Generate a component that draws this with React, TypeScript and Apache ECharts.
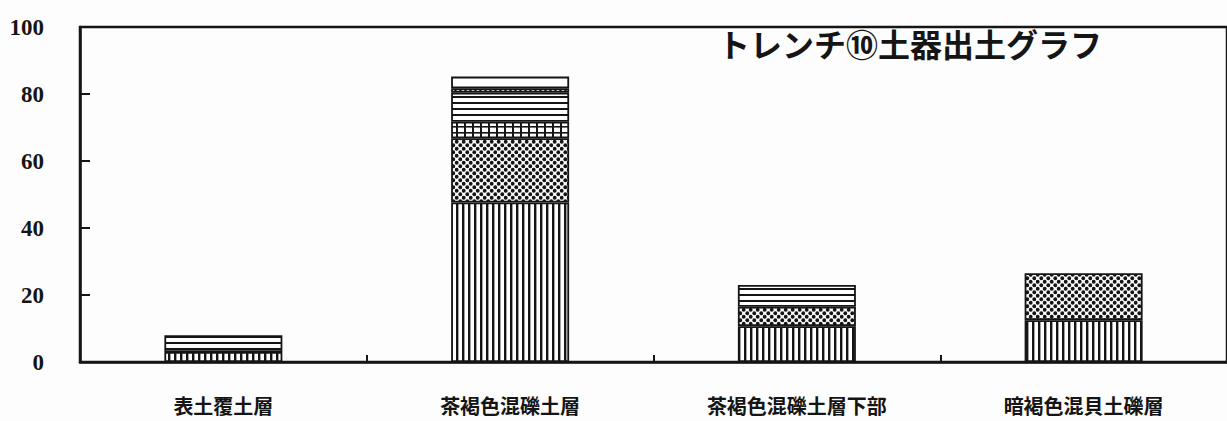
import React, { useEffect, useRef } from "react";
import * as echarts from "echarts";

const categories = ["表土覆土層", "茶褐色混礫土層", "茶褐色混礫土層下部", "暗褐色混貝土礫層"];
const verticalLines = [3, 47.6, 10.7, 12.5];
const dots = [null, 19.2, 5.8, 14];
const gridCells = [null, 4.9, null, null];
const horizontalLines = [5, 8.7, 6.5, null];
const diagonal = [null, 1.3, null, null];
const blank = [null, 3.5, null, null];
const yTicks = [0, 20, 40, 60, 80, 100];
const title = "トレンチ⑩土器出土グラフ";

const INK = "#151515";

function makePattern(w: number, h: number, draw: (ctx: CanvasRenderingContext2D) => void) {
  const c = document.createElement("canvas");
  c.width = w;
  c.height = h;
  const ctx = c.getContext("2d")!;
  ctx.fillStyle = "#ffffff";
  ctx.fillRect(0, 0, w, h);
  ctx.fillStyle = INK;
  ctx.strokeStyle = INK;
  draw(ctx);
  return { image: c.toDataURL(), repeat: "repeat", imageWidth: w, imageHeight: h };
}

export default function App() {
  const ref = useRef<HTMLDivElement>(null);
  useEffect(() => {
    document.body.style.margin = "0";
    const chart = echarts.init(ref.current!, null, { renderer: "svg" });

    const pVertical = makePattern(6, 6, (ctx) => ctx.fillRect(0, 0, 2.4, 6));
    const pDots = makePattern(7, 7, (ctx) => {
      const pts = [
        [1.75, 1.75],
        [5.25, 5.25],
        [-1.75, 5.25],
        [8.75, 5.25],
        [5.25, -1.75],
        [5.25, 8.75],
        [1.75, 8.75],
        [8.75, 1.75],
      ];
      for (const [x, y] of pts) {
        ctx.beginPath();
        ctx.arc(x, y, 1.9, 0, Math.PI * 2);
        ctx.fill();
      }
    });
    const pGrid = makePattern(8, 6, (ctx) => {
      ctx.fillRect(0, 0, 2, 6);
      ctx.fillRect(0, 0, 8, 1.6);
    });
    const pHorizontal = makePattern(6, 6, (ctx) => ctx.fillRect(0, 0, 6, 2));
    const pDiagonal = makePattern(5, 5, (ctx) => {
      ctx.lineWidth = 1.6;
      ctx.beginPath();
      ctx.moveTo(-1, -1);
      ctx.lineTo(6, 6);
      ctx.moveTo(-1, 4);
      ctx.lineTo(1, 6);
      ctx.moveTo(4, -1);
      ctx.lineTo(6, 1);
      ctx.stroke();
    });

    const base = (name: string, data: any[], color: any) => ({
      name,
      type: "bar",
      stack: "total",
      barWidth: 118,
      data,
      itemStyle: { color, borderColor: INK, borderWidth: 1.8 },
    });
    chart.setOption({
      animation: false,
      backgroundColor: "#fdfdfd",
      grid: {
        left: 80,
        right: -3,
        top: 27,
        bottom: 59,
        show: true,
        borderColor: INK,
        borderWidth: 2.5,
        containLabel: false,
      },
      graphic: [
        {
          type: "text",
          left: 718,
          top: 27,
          style: {
            text: title,
            font: "bold 32px 'Noto Sans CJK JP'",
            fill: INK,
          },
        },
      ],
      xAxis: {
        type: "category",
        data: categories,
        axisLine: { show: true, lineStyle: { color: INK, width: 2.5 } },
        axisTick: { show: true, inside: true, length: 7, interval: 0, lineStyle: { color: INK, width: 2 } },
        axisLabel: {
          margin: 33,
          interval: 0,
          color: INK,
          fontFamily: "'Noto Sans CJK JP'",
          fontWeight: "bold",
          fontSize: 20,
        },
        splitLine: { show: false },
      },
      yAxis: {
        type: "value",
        min: yTicks[0],
        max: yTicks[yTicks.length - 1],
        interval: 20,
        axisLine: { show: true, lineStyle: { color: INK, width: 2.5 } },
        axisTick: { show: true, inside: true, length: 10, lineStyle: { color: INK, width: 2 } },
        axisLabel: {
          margin: 36,
          color: INK,
          fontFamily: "'Liberation Serif'",
          fontWeight: "bold",
          fontSize: 23,
          padding: [0, 0, 8, 0],
        },
        splitLine: { show: false },
      },
      series: [
        base("vertical", verticalLines, pVertical),
        base("dots", dots, pDots),
        base("grid", gridCells, pGrid),
        base("horizontal", horizontalLines, pHorizontal),
        base("diagonal", diagonal, pDiagonal),
        base("blank", blank, "#ffffff"),
      ],
    });
    return () => chart.dispose();
  }, []);
  return <div ref={ref} style={{ width: 1227, height: 421 }} />;
}
